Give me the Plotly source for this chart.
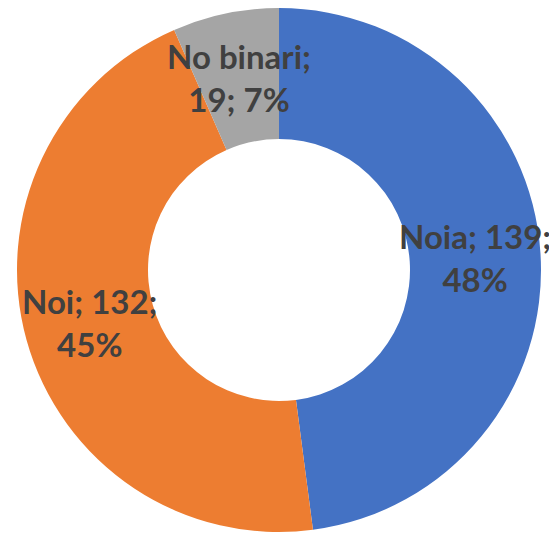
import math
import plotly.graph_objects as go

categories = ["Noia", "Noi", "No binari"]
values = [139, 132, 19]
percents = ["48%", "45%", "7%"]
colors = ["#4472C4", "#ED7D31", "#A5A5A5"]
label_texts = ["Noia; 139;<br>48%", "Noi; 132;<br>45%", "No binari;<br>19; 7%"]

HOLE = 0.5

fig = go.Figure(go.Pie(
    labels=categories,
    values=values,
    textinfo="none",
    hole=HOLE,
    sort=False,
    direction="clockwise",
    rotation=0,
    marker=dict(colors=colors, line=dict(width=0)),
    showlegend=False,
))

# data labels at the middle of each ring segment (derived from the values)
total = sum(values)
r_mid = 0.5 * (1 + HOLE) / 2
cum = 0
for v, t in zip(values, label_texts):
    mid = (cum + v / 2) / total * 2 * math.pi
    cum += v
    fig.add_annotation(
        x=0.5 + r_mid * math.sin(mid),
        y=0.5 + r_mid * math.cos(mid),
        xref="paper", yref="paper",
        text=t, showarrow=False,
        xanchor="center", yanchor="middle", align="center",
        font=dict(family="Lato", size=33, color="#404040", weight="bold"),
    )

fig.update_layout(
    width=557, height=534,
    margin=dict(l=9, r=24, t=0, b=10),
    paper_bgcolor="white",
    plot_bgcolor="white",
)

fig.write_html("out.html")
